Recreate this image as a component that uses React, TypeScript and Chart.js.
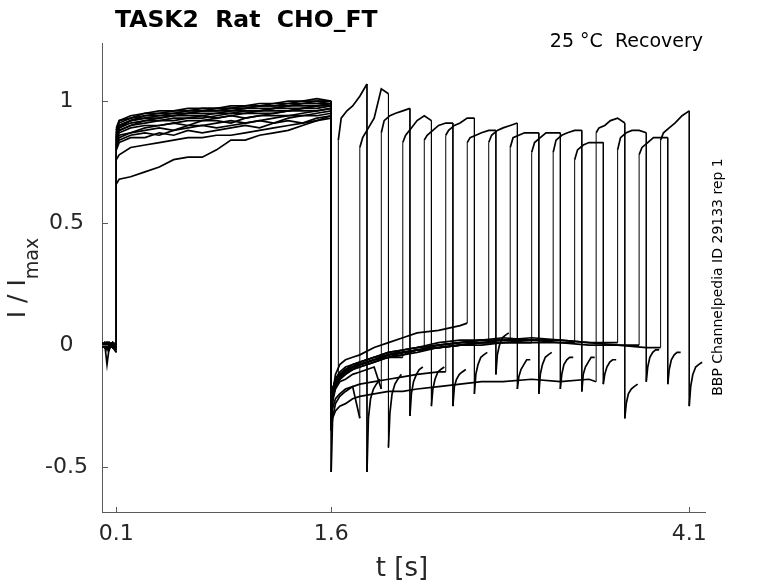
import { useEffect, useRef } from 'react';
import { Chart, registerables } from 'chart.js';

Chart.register(...registerables);

const TITLE = 'TASK2  Rat  CHO_FT';
const CONDITION = '25 °C  Recovery';
const SIDE_NOTE = 'BBP Channelpedia ID 29133 rep 1';

const X_TICKS = [0.1, 1.6, 4.1];
const Y_TICKS = [-0.5, 0, 0.5, 1];

// start of the test pulse in each sweep (s)
const TEST_START = [1.65, 1.8, 1.95, 2.1, 2.25, 2.4, 2.55, 2.7, 2.85, 3.0, 3.15, 3.3, 3.45, 3.6, 3.75, 3.9];

// holding before the first step
const PRE_T = [0, 0.02, 0.035, 0.05, 0.075, 0.1];
const PRE_Y = [
  [0.0, 0.01, -0.01, 0.01, 0.0, -0.01],
  [0.01, 0.0, -0.08, -0.01, 0.01, 0.0],
  [-0.01, 0.01, 0.0, -0.01, 0.01, -0.02],
  [0.0, -0.01, 0.01, 0.0, -0.01, 0.0],
  [0.01, 0.0, -0.02, 0.01, 0.0, -0.01],
  [-0.01, 0.0, 0.01, -0.02, 0.01, 0.0],
  [0.0, 0.01, 0.0, 0.0, -0.01, -0.03],
  [0.01, -0.01, 0.0, 0.01, 0.0, 0.0],
  [0.0, 0.0, -0.01, 0.0, 0.01, -0.01],
  [-0.01, 0.01, 0.0, -0.01, 0.0, 0.01],
  [0.0, -0.01, 0.01, 0.01, -0.01, 0.0],
  [0.01, 0.0, 0.0, -0.01, 0.0, -0.02],
  [0.0, 0.01, -0.01, 0.0, 0.01, 0.0],
  [-0.01, 0.0, 0.01, 0.0, -0.01, 0.01],
  [0.0, -0.01, 0.0, 0.01, 0.0, -0.01],
  [0.01, 0.0, -0.01, 0.0, 0.01, 0.0],
];

// conditioning pulse 0.1 - 1.6 s
const P1_T = [0.1, 0.12, 0.2, 0.3, 0.4, 0.5, 0.6, 0.7, 0.8, 0.9, 1.0, 1.1, 1.2, 1.3, 1.4, 1.5, 1.6];
const P1_Y = [
  [0.66, 0.68, 0.69, 0.71, 0.73, 0.76, 0.77, 0.77, 0.8, 0.84, 0.84, 0.86, 0.87, 0.88, 0.9, 0.92, 0.93],
  [0.76, 0.78, 0.81, 0.82, 0.83, 0.84, 0.85, 0.85, 0.86, 0.86, 0.87, 0.88, 0.89, 0.9, 0.91, 0.92, 0.94],
  [0.8, 0.83, 0.85, 0.85, 0.87, 0.86, 0.88, 0.87, 0.88, 0.89, 0.9, 0.89, 0.91, 0.92, 0.91, 0.93, 0.94],
  [0.81, 0.84, 0.86, 0.87, 0.86, 0.88, 0.89, 0.9, 0.89, 0.9, 0.91, 0.92, 0.91, 0.93, 0.94, 0.94, 0.95],
  [0.82, 0.85, 0.87, 0.88, 0.89, 0.88, 0.9, 0.9, 0.91, 0.92, 0.91, 0.92, 0.93, 0.94, 0.94, 0.95, 0.96],
  [0.83, 0.86, 0.87, 0.89, 0.9, 0.91, 0.9, 0.92, 0.92, 0.91, 0.93, 0.94, 0.94, 0.94, 0.95, 0.96, 0.97],
  [0.84, 0.87, 0.89, 0.9, 0.9, 0.91, 0.92, 0.92, 0.93, 0.94, 0.93, 0.94, 0.95, 0.96, 0.96, 0.96, 0.97],
  [0.85, 0.88, 0.9, 0.91, 0.92, 0.92, 0.93, 0.94, 0.93, 0.94, 0.95, 0.95, 0.95, 0.96, 0.97, 0.97, 0.98],
  [0.85, 0.88, 0.9, 0.92, 0.92, 0.93, 0.93, 0.93, 0.94, 0.95, 0.95, 0.96, 0.96, 0.96, 0.97, 0.98, 0.98],
  [0.86, 0.89, 0.91, 0.92, 0.93, 0.94, 0.94, 0.94, 0.95, 0.95, 0.96, 0.96, 0.97, 0.97, 0.97, 0.98, 0.99],
  [0.86, 0.89, 0.92, 0.93, 0.93, 0.94, 0.95, 0.95, 0.95, 0.96, 0.96, 0.96, 0.97, 0.98, 0.98, 0.98, 0.99],
  [0.87, 0.9, 0.92, 0.93, 0.94, 0.94, 0.95, 0.96, 0.96, 0.96, 0.97, 0.97, 0.97, 0.98, 0.99, 0.99, 0.99],
  [0.87, 0.9, 0.92, 0.94, 0.94, 0.95, 0.95, 0.96, 0.96, 0.97, 0.97, 0.98, 0.98, 0.98, 0.99, 0.99, 1.0],
  [0.88, 0.91, 0.93, 0.94, 0.95, 0.95, 0.96, 0.96, 0.97, 0.97, 0.97, 0.98, 0.98, 0.99, 0.99, 1.0, 1.0],
  [0.88, 0.92, 0.93, 0.95, 0.95, 0.96, 0.96, 0.97, 0.97, 0.97, 0.98, 0.98, 0.99, 0.99, 1.0, 1.0, 1.0],
  [0.89, 0.92, 0.94, 0.95, 0.96, 0.96, 0.97, 0.97, 0.97, 0.98, 0.98, 0.99, 0.99, 1.0, 1.0, 1.01, 1.0],
];

// recovery interval after 1.6 s (only the samples before each test pulse)
const REC_T = [1.6, 1.61, 1.63, 1.66, 1.7, 1.75, 1.8, 1.9, 2.0, 2.1, 2.2, 2.35, 2.5, 2.65, 2.8, 3.0, 3.2, 3.4, 3.6, 3.8];
const REC_Y = [
  [-0.28, -0.19, -0.14],
  [-0.52, -0.3, -0.24, -0.21, -0.19, -0.17],
  [-0.31, -0.23, -0.18, -0.15, -0.14, -0.12, -0.11, -0.09],
  [-0.26, -0.18, -0.15, -0.13, -0.11, -0.1, -0.09, -0.07, -0.05],
  [-0.33, -0.22, -0.17, -0.14, -0.12, -0.1, -0.08, -0.06, -0.05, -0.03, -0.02],
  [-0.34, -0.26, -0.22, -0.2, -0.18, -0.17, -0.16, -0.15, -0.14, -0.13, -0.12, -0.11],
  [-0.3, -0.2, -0.12, -0.08, -0.06, -0.05, -0.04, -0.01, 0.01, 0.03, 0.05, 0.06, 0.08],
  [-0.29, -0.21, -0.16, -0.13, -0.11, -0.09, -0.08, -0.06, -0.04, -0.03, -0.02, 0.0, 0.01, 0.01],
  [-0.27, -0.19, -0.15, -0.12, -0.1, -0.09, -0.07, -0.05, -0.03, -0.02, -0.01, 0.0, 0.01, 0.02, 0.02],
  [-0.32, -0.22, -0.17, -0.14, -0.12, -0.1, -0.09, -0.07, -0.05, -0.04, -0.03, -0.01, 0.0, 0.01, 0.01],
  [-0.26, -0.18, -0.14, -0.12, -0.1, -0.08, -0.07, -0.05, -0.04, -0.02, -0.01, 0.01, 0.02, 0.02, 0.03, 0.02],
  [-0.3, -0.2, -0.16, -0.13, -0.11, -0.1, -0.08, -0.06, -0.04, -0.03, -0.02, -0.01, 0.0, 0.01, 0.01, 0.02, 0.01],
  [-0.35, -0.3, -0.27, -0.25, -0.24, -0.22, -0.21, -0.2, -0.19, -0.19, -0.18, -0.17, -0.16, -0.15, -0.15, -0.14, -0.15, -0.14],
  [-0.28, -0.2, -0.15, -0.12, -0.1, -0.09, -0.08, -0.06, -0.04, -0.03, -0.02, -0.01, 0.0, 0.01, 0.02, 0.02, 0.02, 0.01],
  [-0.31, -0.21, -0.16, -0.13, -0.11, -0.09, -0.08, -0.06, -0.05, -0.04, -0.02, -0.01, 0.0, 0.0, 0.01, 0.01, 0.01, 0.0, 0.0],
  [-0.27, -0.18, -0.14, -0.11, -0.09, -0.08, -0.07, -0.05, -0.03, -0.02, -0.01, 0.0, 0.01, 0.02, 0.02, 0.03, 0.02, 0.01, 0.0, -0.01],
];
const TEST_LOW = [-0.12, -0.3, -0.18, -0.05, -0.02, -0.11, 0.09, 0.01, 0.02, 0.01, 0.02, 0.01, -0.15, 0.01, 0.0, -0.01];

// test pulse, offsets from its start (s)
const TEST_OFF = [0, 0.02, 0.06, 0.1, 0.15, 0.2];
const TEST_Y = [
  [0.84, 0.93, 0.96, 0.98, 1.02, 1.07],
  [0.81, 0.85, 0.89, 0.93, 1.05, 1.03],
  [0.87, 0.92, 0.94, 0.95, 0.96, 0.97],
  [0.83, 0.86, 0.89, 0.92, 0.94, 0.92],
  [0.84, 0.86, 0.88, 0.9, 0.91, 0.91],
  [0.86, 0.88, 0.9, 0.91, 0.93, 0.93],
  [0.83, 0.85, 0.86, 0.87, 0.88, 0.88],
  [0.83, 0.86, 0.88, 0.89, 0.9, 0.91],
  [0.81, 0.85, 0.86, 0.87, 0.87, 0.87],
  [0.79, 0.83, 0.85, 0.87, 0.87, 0.87],
  [0.79, 0.84, 0.86, 0.87, 0.88, 0.88],
  [0.76, 0.8, 0.82, 0.83, 0.83, 0.83],
  [0.87, 0.89, 0.9, 0.92, 0.93, 0.91],
  [0.8, 0.85, 0.87, 0.88, 0.88, 0.87],
  [0.78, 0.81, 0.83, 0.85, 0.85, 0.85],
  [0.84, 0.87, 0.89, 0.91, 0.94, 0.96],
];

// tail after the test pulse, offsets from test start (s)
const POST_OFF = [0.2, 0.21, 0.225, 0.245, 0.265, 0.29];
const POST_Y = [
  [-0.52, -0.3, -0.22, -0.18, -0.16, -0.14],
  [-0.42, -0.28, -0.2, -0.16, -0.14, -0.12],
  [-0.29, -0.2, -0.15, -0.12, -0.1, -0.09],
  [-0.25, -0.18, -0.14, -0.11, -0.1, -0.09],
  [-0.25, -0.17, -0.14, -0.12, -0.11, -0.1],
  [-0.2, -0.12, -0.08, -0.05, -0.04, -0.03],
  [-0.12, -0.04, 0.0, 0.03, 0.04, 0.05],
  [-0.18, -0.13, -0.1, -0.08, -0.06, -0.06],
  [-0.2, -0.12, -0.08, -0.05, -0.04, -0.03],
  [-0.18, -0.12, -0.08, -0.06, -0.05, -0.05],
  [-0.19, -0.12, -0.09, -0.07, -0.05, -0.05],
  [-0.16, -0.12, -0.09, -0.07, -0.06, -0.06],
  [-0.3, -0.24, -0.2, -0.18, -0.17, -0.16],
  [-0.15, -0.09, -0.05, -0.03, -0.02, -0.02],
  [-0.16, -0.1, -0.06, -0.04, -0.03, -0.03],
  [-0.25, -0.17, -0.12, -0.09, -0.08, -0.07],
];

const FONT = '"DejaVu Sans", sans-serif';
const AXIS_COLOR = '#5a5a5a';
const TEXT_COLOR = '#262626';

function sweepPoints(k: number) {
  const tk = TEST_START[k];
  const pts: { x: number; y: number }[] = [];
  PRE_T.forEach((t, i) => pts.push({ x: t, y: PRE_Y[k][i] }));
  P1_T.forEach((t, i) => pts.push({ x: t, y: P1_Y[k][i] }));
  REC_Y[k].forEach((y, i) => {
    if (REC_T[i] < tk) pts.push({ x: REC_T[i], y });
  });
  pts.push({ x: tk, y: TEST_LOW[k] });
  TEST_OFF.forEach((o, i) => pts.push({ x: tk + o, y: TEST_Y[k][i] }));
  POST_OFF.forEach((o, i) => pts.push({ x: tk + o, y: POST_Y[k][i] }));
  return pts;
}

const decorPlugin = {
  id: 'decor',
  afterDraw(chart: any) {
    const { ctx, chartArea, scales } = chart;
    ctx.save();

    // inward tick marks
    ctx.strokeStyle = AXIS_COLOR;
    ctx.lineWidth = 1;
    ctx.beginPath();
    X_TICKS.forEach(v => {
      const px = Math.round(scales.x.getPixelForValue(v)) + 0.5;
      ctx.moveTo(px, chartArea.bottom);
      ctx.lineTo(px, chartArea.bottom - 5);
    });
    Y_TICKS.forEach(v => {
      const py = Math.round(scales.y.getPixelForValue(v)) + 0.5;
      ctx.moveTo(chartArea.left, py);
      ctx.lineTo(chartArea.left + 6, py);
    });
    ctx.stroke();

    // title
    ctx.fillStyle = '#000';
    ctx.textBaseline = 'alphabetic';
    ctx.textAlign = 'left';
    ctx.font = `bold 23.5px ${FONT}`;
    ctx.fillText(TITLE, 115, 27);

    // condition
    ctx.font = `19px ${FONT}`;
    ctx.textAlign = 'right';
    ctx.fillText(CONDITION, 703, 47);

    // x title
    ctx.fillStyle = TEXT_COLOR;
    ctx.font = `26px ${FONT}`;
    ctx.textAlign = 'center';
    ctx.fillText('t [s]', 402, 576);

    // y title with subscript
    ctx.font = `25px ${FONT}`;
    const main = 'I / I';
    const w1 = ctx.measureText(main).width;
    ctx.font = `19px ${FONT}`;
    const w2 = ctx.measureText('max').width;
    ctx.save();
    ctx.translate(25, 278);
    ctx.rotate(-Math.PI / 2);
    ctx.textAlign = 'left';
    ctx.font = `25px ${FONT}`;
    ctx.fillText(main, -(w1 + w2) / 2, 0);
    ctx.font = `19px ${FONT}`;
    ctx.fillText('max', -(w1 + w2) / 2 + w1, 13);
    ctx.restore();

    // side note
    ctx.save();
    ctx.fillStyle = '#000';
    ctx.translate(722, 277);
    ctx.rotate(-Math.PI / 2);
    ctx.textAlign = 'center';
    ctx.font = `14px ${FONT}`;
    ctx.fillText(SIDE_NOTE, 0, 0);
    ctx.restore();

    ctx.restore();
  },
};

export default function App() {
  const canvasRef = useRef<HTMLCanvasElement>(null);
  const chartRef = useRef<Chart | null>(null);

  useEffect(() => {
    if (!canvasRef.current) return;
    if (chartRef.current) chartRef.current.destroy();

    const datasets = TEST_START.map((_, k) => ({
      label: `sweep ${k + 1}`,
      data: sweepPoints(k),
      borderColor: '#000',
      borderWidth: 1.7,
      pointRadius: 0,
      tension: 0,
      fill: false,
      // steps (vertical jumps) are thin, the noisy traces look thicker
      segment: {
        borderWidth: (c: any) => (c.p0.parsed.x === c.p1.parsed.x ? 1 : 1.7),
      },
    }));

    chartRef.current = new Chart(canvasRef.current, {
      type: 'line',
      data: { datasets },
      plugins: [decorPlugin],
      options: {
        animation: false,
        responsive: false,
        layout: { padding: { top: 43, right: 73, left: 0, bottom: 0 } },
        plugins: {
          legend: { display: false },
          tooltip: { enabled: false },
        },
        scales: {
          x: {
            type: 'linear',
            min: 0,
            max: 4.21,
            afterBuildTicks: (scale: any) => {
              scale.ticks = X_TICKS.map(value => ({ value }));
            },
            afterFit: (scale: any) => {
              scale.height = 71;
            },
            ticks: {
              autoSkip: false,
              maxRotation: 0,
              padding: 9,
              color: TEXT_COLOR,
              font: { family: FONT, size: 22 },
              callback: (v: any) => String(v),
            },
            grid: { display: false, drawTicks: false },
            border: { display: true, color: AXIS_COLOR, width: 1 },
          },
          y: {
            type: 'linear',
            min: -0.684,
            max: 1.238,
            afterBuildTicks: (scale: any) => {
              scale.ticks = Y_TICKS.map(value => ({ value }));
            },
            afterFit: (scale: any) => {
              scale.width = 102;
            },
            ticks: {
              autoSkip: false,
              padding: 14,
              crossAlign: 'center',
              color: TEXT_COLOR,
              font: { family: FONT, size: 22 },
              callback: (v: any) => String(v),
            },
            grid: { display: false, drawTicks: false },
            border: { display: true, color: AXIS_COLOR, width: 1 },
          },
        },
      },
    });

    return () => {
      if (chartRef.current) {
        chartRef.current.destroy();
        chartRef.current = null;
      }
    };
  }, []);

  return (
    <div style={{ position: 'fixed', left: 0, top: 0, width: 778, height: 583, background: '#fff' }}>
      <canvas ref={canvasRef} width={778} height={583} />
    </div>
  );
}
